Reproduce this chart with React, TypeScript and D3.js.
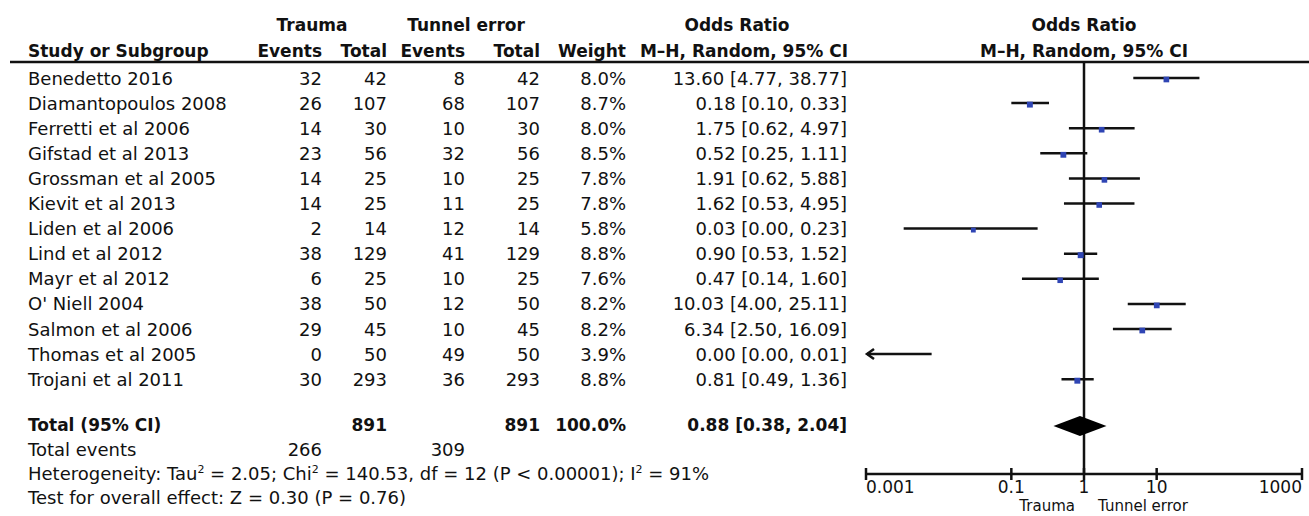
import { useCallback, useEffect, useRef } from 'react';
import { scaleLog, select } from 'd3';

const studies = [
  'Benedetto 2016',
  'Diamantopoulos 2008',
  'Ferretti et al 2006',
  'Gifstad et al 2013',
  'Grossman et al 2005',
  'Kievit et al 2013',
  'Liden et al 2006',
  'Lind et al 2012',
  'Mayr et al 2012',
  "O' Niell 2004",
  'Salmon et al 2006',
  'Thomas et al 2005',
  'Trojani et al 2011',
];
const traumaEvents = [32, 26, 14, 23, 14, 14, 2, 38, 6, 38, 29, 0, 30];
const traumaTotal = [42, 107, 30, 56, 25, 25, 14, 129, 25, 50, 45, 50, 293];
const tunnelEvents = [8, 68, 10, 32, 10, 11, 12, 41, 10, 12, 10, 49, 36];
const tunnelTotal = [42, 107, 30, 56, 25, 25, 14, 129, 25, 50, 45, 50, 293];
const weights = [8.0, 8.7, 8.0, 8.5, 7.8, 7.8, 5.8, 8.8, 7.6, 8.2, 8.2, 3.9, 8.8];
const orLabels = [
  '13.60 [4.77, 38.77]',
  '0.18 [0.10, 0.33]',
  '1.75 [0.62, 4.97]',
  '0.52 [0.25, 1.11]',
  '1.91 [0.62, 5.88]',
  '1.62 [0.53, 4.95]',
  '0.03 [0.00, 0.23]',
  '0.90 [0.53, 1.52]',
  '0.47 [0.14, 1.60]',
  '10.03 [4.00, 25.11]',
  '6.34 [2.50, 16.09]',
  '0.00 [0.00, 0.01]',
  '0.81 [0.49, 1.36]',
];
// plotted estimates (values shown as 0.00 estimated from the plot)
const orValues = [13.6, 0.18, 1.75, 0.52, 1.91, 1.62, 0.03, 0.9, 0.47, 10.03, 6.34, 0.0004, 0.81];
const ciLower = [4.77, 0.1, 0.62, 0.25, 0.62, 0.53, 0.0033, 0.53, 0.14, 4.0, 2.5, 0.00002, 0.49];
const ciUpper = [38.77, 0.33, 4.97, 1.11, 5.88, 4.95, 0.23, 1.52, 1.6, 25.11, 16.09, 0.008, 1.36];

const totalEvents = [266, 309];
const totalN = [891, 891];
const pooled = [0.88, 0.38, 2.04];
const pooledLabel = '0.88 [0.38, 2.04]';

const tickValues = [0.001, 0.1, 1, 10, 1000];
const tickLabels = ['0.001', '0.1', '1', '10', '1000'];

const FONT = "'DejaVu Sans', Verdana, sans-serif";

export default function App() {
  const containerRef = useRef<HTMLDivElement>(null);

  const initChart = useCallback(() => {
    const container = containerRef.current;
    if (!container) return;
    document.body.style.margin = '0';

    const width = 1309,
      height = 516;

    const div = select(container);
    div.select('svg').remove();

    const svg = div
      .append('svg')
      .attr('width', width)
      .attr('height', height)
      .attr('font-family', FONT)
      .attr('font-size', 18)
      .style('display', 'block')
      .style('background', '#fff');

    const x = scaleLog().domain([0.001, 1000]).range([866, 1302]);

    const rowY = (i: number) => 78 + i * 25.1;
    const base = 6.5; // baseline offset from text centre
    const totalY = 424;
    const axisY = 474;

    const text = (
      t: string,
      tx: number,
      ty: number,
      anchor = 'start',
      bold = false,
    ) =>
      svg
        .append('text')
        .attr('x', tx)
        .attr('y', ty)
        .attr('text-anchor', anchor)
        .attr('font-weight', bold ? 'bold' : 'normal')
        .attr('font-size', bold ? 17 : 18)
        .attr('fill', '#111')
        .text(t);

    // headers
    text('Trauma', 312, 31, 'middle', true);
    text('Tunnel error', 466, 31, 'middle', true);
    text('Odds Ratio', 737, 31, 'middle', true);
    text('Odds Ratio', 1084, 31, 'middle', true);
    text('Study or Subgroup', 28, 57, 'start', true);
    text('Events', 322, 57, 'end', true);
    text('Total', 387, 57, 'end', true);
    text('Events', 465, 57, 'end', true);
    text('Total', 540, 57, 'end', true);
    text('Weight', 626, 57, 'end', true);
    text('M–H, Random, 95% CI', 848, 57, 'end', true);
    text('M–H, Random, 95% CI', 1084, 57, 'middle', true);

    svg
      .append('line')
      .attr('x1', 10)
      .attr('x2', width)
      .attr('y1', 62)
      .attr('y2', 62)
      .attr('stroke', '#111')
      .attr('stroke-width', 2.5);

    // table rows
    studies.forEach((name, i) => {
      const y = rowY(i) + base;
      text(name, 28, y);
      text(String(traumaEvents[i]), 322, y, 'end');
      text(String(traumaTotal[i]), 387, y, 'end');
      text(String(tunnelEvents[i]), 465, y, 'end');
      text(String(tunnelTotal[i]), 540, y, 'end');
      text(weights[i].toFixed(1) + '%', 626, y, 'end');
      text(orLabels[i], 847, y, 'end');
    });

    // totals
    text('Total (95% CI)', 28, totalY + base, 'start', true);
    text(String(totalN[0]), 387, totalY + base, 'end', true);
    text(String(totalN[1]), 540, totalY + base, 'end', true);
    text('100.0%', 626, totalY + base, 'end', true);
    text(pooledLabel, 847, totalY + base, 'end', true);

    text('Total events', 28, 449 + base);
    text(String(totalEvents[0]), 322, 449 + base, 'end');
    text(String(totalEvents[1]), 465, 449 + base, 'end');

    const sup = (parts: string[], ty: number) => {
      const t = svg
        .append('text')
        .attr('x', 28)
        .attr('y', ty)
        .attr('fill', '#111');
      parts.forEach((p, k) => {
        if (k % 2 === 1) {
          t.append('tspan').attr('dy', -7).attr('font-size', 11).text(p);
        } else {
          t.append('tspan').attr('dy', k === 0 ? 0 : 7).text(p);
        }
      });
    };
    sup(
      [
        'Heterogeneity: Tau',
        '2',
        ' = 2.05; Chi',
        '2',
        ' = 140.53, df = 12 (P < 0.00001); I',
        '2',
        ' = 91%',
      ],
      473 + base,
    );
    text('Test for overall effect: Z = 0.30 (P = 0.76)', 28, 497 + base);

    // forest plot
    svg
      .append('line')
      .attr('x1', x(1))
      .attr('x2', x(1))
      .attr('y1', 62)
      .attr('y2', axisY)
      .attr('stroke', '#111')
      .attr('stroke-width', 2.5);

    const [dMin, dMax] = x.domain();
    const plot = svg.append('g').attr('class', 'marks');
    studies.forEach((_, i) => {
      const y = rowY(i);
      const lo = Math.max(ciLower[i], dMin);
      const hi = Math.min(ciUpper[i], dMax);
      const x1 = lo === dMin ? x(dMin) + 1 : x(lo);
      plot
        .append('line')
        .attr('x1', x1)
        .attr('x2', x(hi))
        .attr('y1', y)
        .attr('y2', y)
        .attr('stroke', '#111')
        .attr('stroke-width', 2.5);
      if (ciLower[i] < dMin) {
        plot
          .append('path')
          .attr('d', `M${x1 + 7},${y - 5} L${x1},${y} L${x1 + 7},${y + 5}`)
          .attr('fill', 'none')
          .attr('stroke', '#111')
          .attr('stroke-width', 2.5);
      }
      if (orValues[i] >= dMin) {
        const s = 2 * Math.sqrt(weights[i]);
        plot
          .append('rect')
          .attr('x', x(orValues[i]) - s / 2)
          .attr('y', y + 1.5 - s / 2)
          .attr('width', s)
          .attr('height', s)
          .attr('fill', '#2f45b4');
      }
    });

    // pooled diamond
    const [pOr, pLo, pHi] = pooled;
    plot
      .append('path')
      .attr(
        'd',
        `M${x(pLo)},${totalY + 2} L${x(pOr)},${totalY - 8} L${x(pHi)},${totalY + 2} L${x(pOr)},${totalY + 12} Z`,
      )
      .attr('fill', '#000');

    // axis
    const axis = svg.append('g').attr('class', 'x-axis');
    axis
      .append('line')
      .attr('x1', x(dMin))
      .attr('x2', x(dMax))
      .attr('y1', axisY)
      .attr('y2', axisY)
      .attr('stroke', '#111')
      .attr('stroke-width', 2.5);
    axis
      .selectAll('line.tick')
      .data(tickValues)
      .join('line')
      .attr('class', 'tick')
      .attr('x1', (d) => x(d))
      .attr('x2', (d) => x(d))
      .attr('y1', axisY - 6)
      .attr('y2', axisY + 6)
      .attr('stroke', '#111')
      .attr('stroke-width', 2.5);
    axis
      .selectAll('text')
      .data(tickValues)
      .join('text')
      .attr('x', (d) => x(d))
      .attr('y', 493)
      .attr('font-size', 17)
      .attr('text-anchor', (_, i) =>
        i === 0 ? 'start' : i === tickValues.length - 1 ? 'end' : 'middle',
      )
      .attr('fill', '#111')
      .text((_, i) => tickLabels[i]);

    text('Trauma', 1075, 511, 'end').attr('font-size', 15);
    text('Tunnel error', 1098, 511, 'start').attr('font-size', 15);
  }, []);

  const destroyChart = useCallback(() => {
    const container = containerRef.current;
    if (!container) return;
    select(container).select('svg').remove();
  }, []);

  useEffect(() => {
    initChart();
    return destroyChart;
  }, [destroyChart, initChart]);

  return <div ref={containerRef} />;
}
